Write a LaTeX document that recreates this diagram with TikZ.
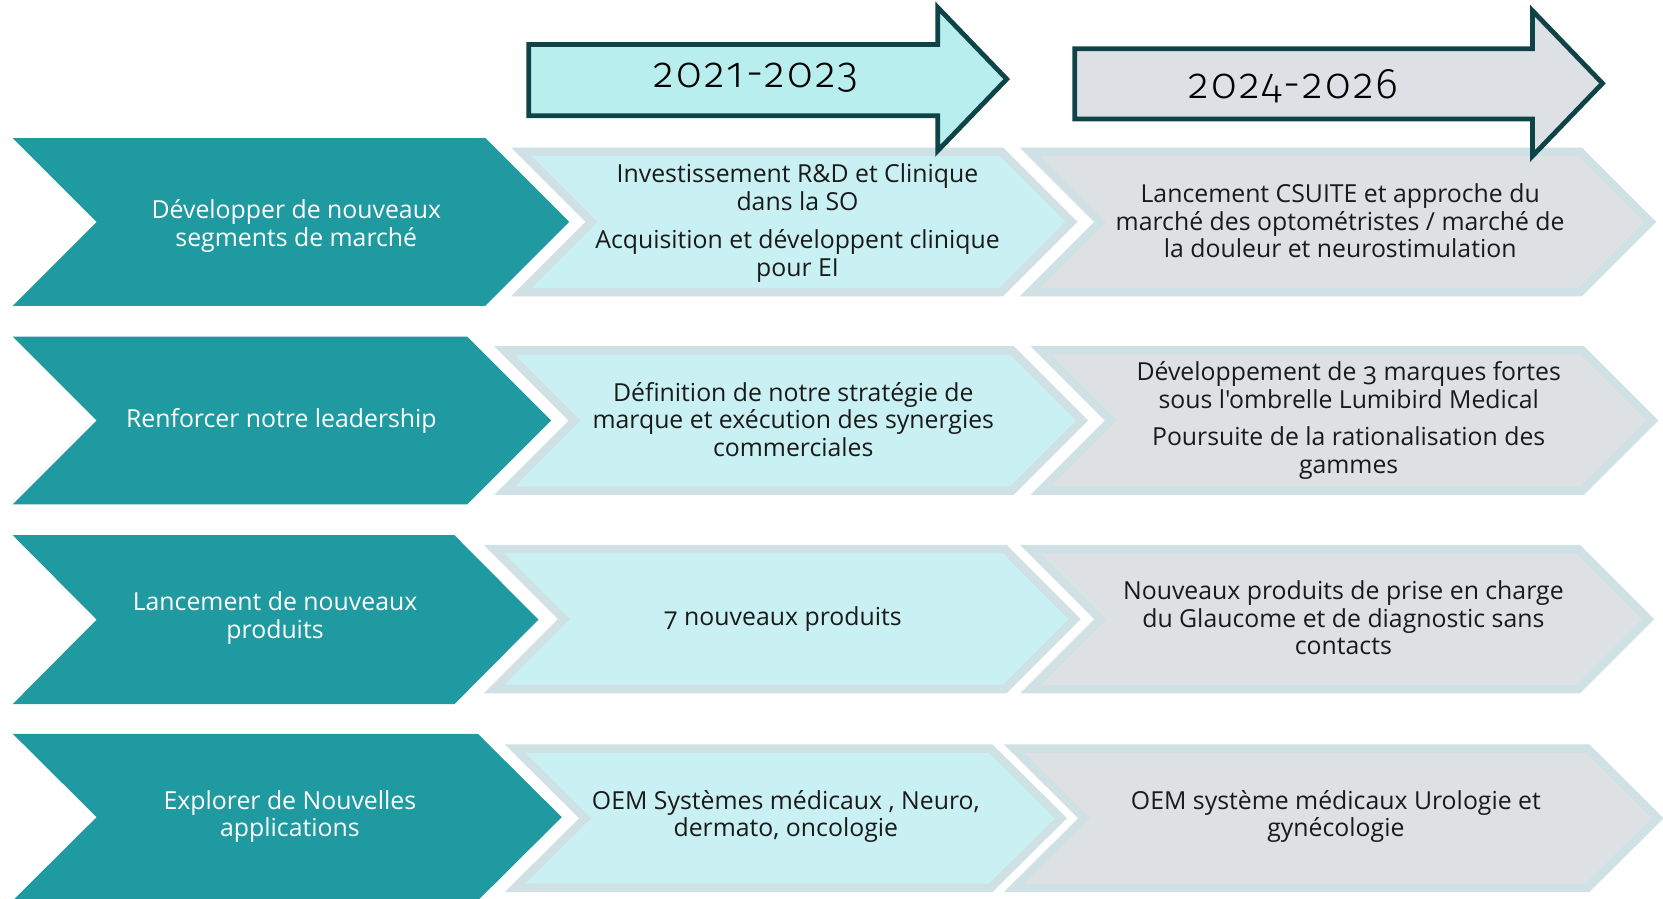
\documentclass[tikz,border=0pt]{standalone}
\usepackage{fontspec}
\setmainfont{Open Sans}[Ligatures=TeXOff, Numbers=OldStyle]
\newfontfamily\yearfont{Fira Sans Light}[Numbers=OldStyle, LetterSpace=6]
\usepackage{tikz}
\usetikzlibrary{positioning}
\usetikzlibrary{calc}

\definecolor{axeteal}{HTML}{1F9AA0}
\definecolor{phaseone}{HTML}{C9F1F3}
\definecolor{phasetwo}{HTML}{DEE1E4}
\definecolor{phaseedge}{HTML}{CFE1E4}
\definecolor{yearone}{HTML}{B8EEEE}
\definecolor{yeartwo}{HTML}{DDE0E4}
\definecolor{yearedge}{HTML}{0E4448}
\definecolor{inktext}{HTML}{1A1A1A}

\newcommand{\bodysize}{\fontsize{13.3}{14.8}\selectfont}
% chevron: left, corner, top, bottom, depth
\newcommand{\chev}[5]{(#1,#3) -- (#2,#3) -- ({#2+#5},{(#3+#4)/2}) -- (#2,#4) -- (#1,#4) -- ({#1+#5},{(#3+#4)/2}) -- cycle}
% arrow: left, top, bottom, head base, head top, head bottom, tip
\newcommand{\yeararrow}[7]{(#1,#2) -- (#4,#2) -- (#4,#5) -- (#7,{(#5+#6)/2}) -- (#4,#6) -- (#4,#3) -- (#1,#3) -- cycle}

\begin{document}
\begin{tikzpicture}[x=0.02cm, y=-0.02cm,
		axe/.style={fill=axeteal},
		cellone/.style={fill=phaseone, draw=phaseedge, line width=0.16cm, line join=miter},
		celltwo/.style={fill=phasetwo, draw=phaseedge, line width=0.16cm, line join=miter},
		axetext/.style={text=white, align=center, font=\bodysize},
		celltext/.style={text=inktext, align=center, font=\bodysize},
		yeartext/.style={text=black, font=\yearfont\fontsize{23}{26}\selectfont}]
		\useasboundingbox (0,0) rectangle (1566,846.5);
		
		% left column
		\fill[axe] \chev{12}{457}{130}{288}{79};
		\fill[axe] \chev{12}{440}{317}{475}{79};
		\fill[axe] \chev{12}{428}{504}{663}{79};
		\fill[axe] \chev{12}{450}{691}{848}{79};
		
		% 2021-2023
		\draw[cellone] \chev{491}{943}{143}{275}{66};
		\draw[cellone] \chev{475}{953}{330}{462}{66};
		\draw[cellone] \chev{465}{946}{517}{649}{66};
		\draw[cellone] \chev{485}{933}{705}{836}{66};
		
		% 2024-2026
		\draw[celltwo] \chev{970}{1488}{143}{275}{66};
		\draw[celltwo] \chev{980}{1490}{330}{462}{66};
		\draw[celltwo] \chev{970}{1486}{517}{649}{66};
		\draw[celltwo] \chev{955}{1495}{705}{836}{66};
		
		% years
		\draw[fill=yearone, draw=yearedge, line width=0.09cm, line join=miter] \yeararrow{498}{42}{109}{883}{7}{142}{948};
		\draw[fill=yeartwo, draw=yearedge, line width=0.09cm, line join=miter] \yeararrow{1012}{46}{112}{1443}{10}{147}{1509};
		\node[yeartext] (y1) at (712,73) {2021-2023};
		\node[yeartext] (y2) at (1218,81) {2024-2026};
		
		\node[axetext] (dev) at (279,213) {Développer de nouveaux\\segments de marché};
		\node[axetext] (lead) at (265,396) {Renforcer notre leadership};
		\node[axetext] (launch) at (259,582) {Lancement de nouveaux\\produits};
		\node[axetext] (explore) at (273,769) {Explorer de Nouvelles\\applications};
		
		\node[celltext] (dev1) at (751,210) {Investissement R\&D et Clinique\\dans la SO\\[5.5pt]Acquisition et développent clinique\\pour EI};
		\node[celltext] (lead1) at (747,395) {Définition de notre stratégie de\\marque et exécution des synergies\\commerciales};
		\node[celltext] (launch1) at (737,583) {7 nouveaux produits};
		\node[celltext] (explore1) at (740,769) {OEM Systèmes médicaux , Neuro,\\dermato, oncologie};
		
		\node[celltext] (dev2) at (1262,208) {Lancement CSUITE et approche du\\marché des optométristes / marché de\\la douleur et neurostimulation};
		\node[celltext] (lead2) at (1270,396) {Développement de 3 marques fortes\\sous l'ombrelle Lumibird Medical\\[5.5pt]Poursuite de la rationalisation des\\gammes};
		\node[celltext] (launch2) at (1265,582) {Nouveaux produits de prise en charge\\du Glaucome et de diagnostic sans\\contacts};
		\node[celltext] (explore2) at (1258,769) {OEM système médicaux Urologie et\\gynécologie};
	\end{tikzpicture}
\end{document}
